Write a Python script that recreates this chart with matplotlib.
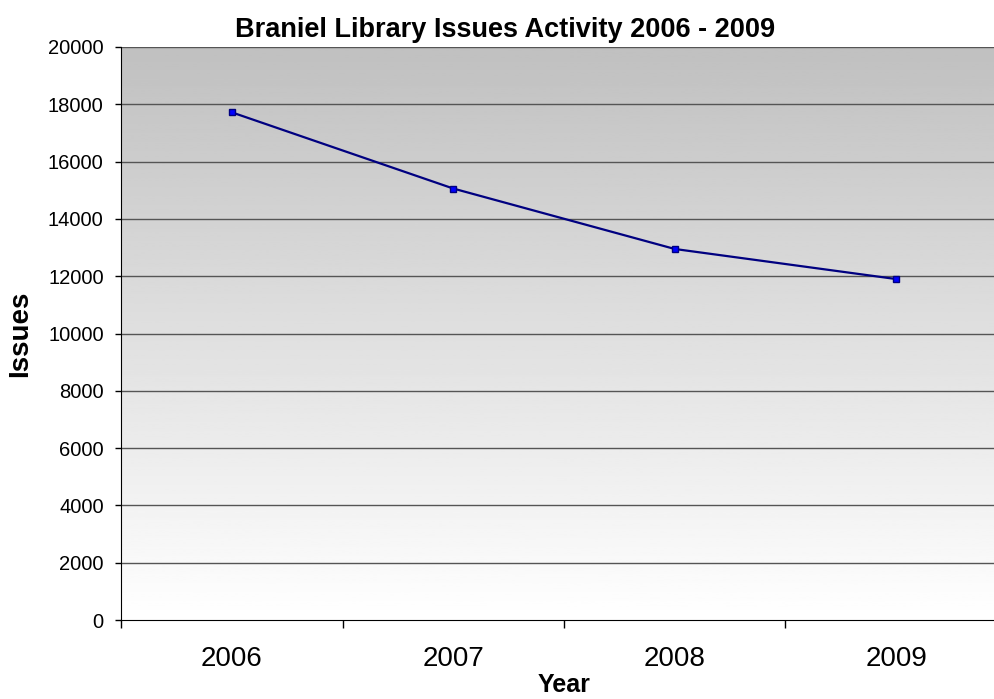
import numpy as np
import matplotlib
matplotlib.use("Agg")
import matplotlib.pyplot as plt

years = ["2006", "2007", "2008", "2009"]
issues = [17720, 15060, 12950, 11900]
y_ticks = [0, 2000, 4000, 6000, 8000, 10000, 12000, 14000, 16000, 18000, 20000]

plt.rcParams['font.family'] = ['Liberation Sans', 'DejaVu Sans']

fig = plt.figure(figsize=(9.94, 6.99), dpi=100)
ax = fig.add_axes([121 / 994, 1 - 620 / 699, (1007 - 121) / 994, (620 - 47) / 699])

x = np.arange(len(years))

# gray-to-white gradient background
grad = np.linspace(192, 255, 256)[:, None] / 255.0
ax.imshow(grad, cmap='gray', vmin=0, vmax=1, aspect='auto',
          extent=[-0.5, len(years) - 0.5, 0, 20000], origin='upper', zorder=0)

for t in y_ticks[1:]:
    ax.axhline(t, color='#555555', lw=1, zorder=1)

ax.plot(x, issues, color='#000080', lw=1.6, marker='s', markersize=5,
        markerfacecolor='#0000ff', markeredgecolor='#000080', zorder=3)

ax.set_xlim(-0.5, len(years) - 0.5)
ax.set_ylim(0, 20000)
ax.set_yticks(y_ticks)
ax.set_yticklabels([str(t) for t in y_ticks], fontsize=14.5)
ax.tick_params(axis='y', direction='out', length=4.5, width=1, pad=8)

ax.set_xticks(np.arange(len(years) + 1) - 0.5)
ax.set_xticklabels([])
ax.tick_params(axis='x', which='major', direction='out', length=6, width=1)
ax.set_xticks(x, minor=True)
ax.set_xticklabels(years, minor=True, fontsize=20)
ax.tick_params(axis='x', which='minor', length=0, pad=19)

for s in ['top', 'right']:
    ax.spines[s].set_visible(False)
ax.spines['left'].set_color('black')
ax.spines['bottom'].set_color('black')

fig.text(505 / 994, 1 - 37 / 699, "Braniel Library Issues Activity 2006 - 2009",
         fontsize=19.5, fontweight='bold', ha='center', va='baseline')
fig.text(564 / 994, 1 - 692 / 699, "Year", fontsize=18, fontweight='bold',
         ha='center', va='baseline')
ax.set_ylabel("Issues", fontsize=20, fontweight='bold')
ax.yaxis.set_label_coords((33 - 121) / 886, 0.5)

fig.savefig("out.png", dpi=100)
